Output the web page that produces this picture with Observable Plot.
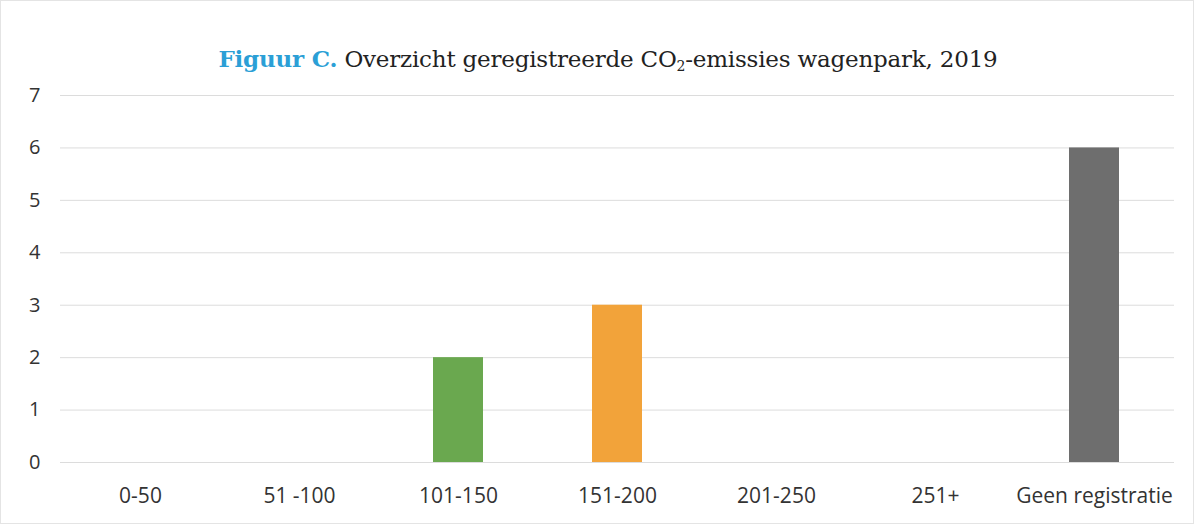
<!DOCTYPE html>
<html>
<head>
<meta charset="utf-8">
<script src="https://cdn.jsdelivr.net/npm/d3@7"></script>
<script src="https://cdn.jsdelivr.net/npm/@observablehq/plot@0.6"></script>
<style>
  html, body { margin: 0; padding: 0; background: #fff; }
  #wrap { position: relative; width: 1192px; height: 522px; border: 1px solid #e4e4e4; overflow: hidden; }
  #title { height: 79px; box-sizing: border-box; padding-top: 46px; text-align: center; font-family: "DejaVu Serif", "Liberation Serif", serif; font-size: 23px; color: #222; line-height: 1; padding-left: 22px; letter-spacing: -0.2px; }
  #title b { color: #2b9fd6; }
  #title sub { font-size: 14px; vertical-align: -4px; line-height: 0; }
</style>
</head>
<body>
<div id="wrap">
  <div id="title"><b>Figuur C.</b> Overzicht geregistreerde CO<sub>2</sub>-emissies wagenpark, 2019</div>
  <div id="chart"></div>
</div>
<script>
const categories = ["0-50", "51 -100", "101-150", "151-200", "201-250", "251+", "Geen registratie"];
const values = [0, 0, 2, 3, 0, 0, 6];
const colors = ["#6aa84f", "#6aa84f", "#6aa84f", "#f2a33a", "#888888", "#888888", "#6e6e6e"];
const yTicks = [0, 1, 2, 3, 4, 5, 6, 7];

const data = categories.map((c, i) => ({category: c, value: values[i], color: colors[i]}));

const chart = Plot.plot({
  width: 1192,
  height: 443,
  marginTop: 15,
  marginLeft: 59,
  marginRight: 19,
  marginBottom: 61,
  style: { fontFamily: "'Open Sans', Lato, sans-serif", fontSize: "18px", color: "#333", background: "transparent" },
  x: { domain: categories, paddingInner: 0.685, paddingOuter: 0.3425, label: null },
  y: { domain: [0, 7], label: null },
  marks: [
    Plot.ruleY(yTicks, { stroke: "#dcdcdc", strokeWidth: 1 }),
    Plot.barY(data.filter(d => d.value > 0), { x: "category", y: "value", fill: "color" }),
    Plot.axisX({ tickSize: 0, tickPadding: 26, fontSize: 21, label: null }),
    Plot.axisY({ ticks: yTicks, tickFormat: "d", tickSize: 0, tickPadding: 20, fontSize: 20, label: null })
  ]
});
document.getElementById("chart").appendChild(chart);
</script>
</body>
</html>
